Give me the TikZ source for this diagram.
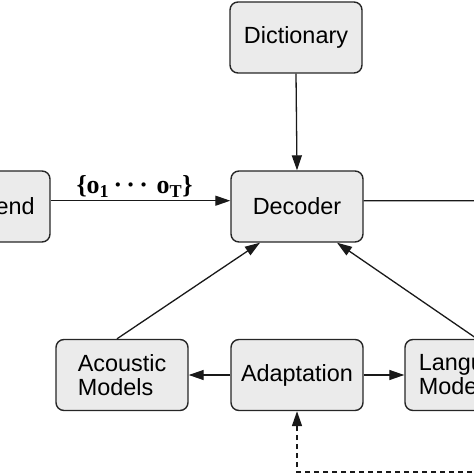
\documentclass[tikz,border=0pt]{standalone}
\usepackage{fontspec}
\setmainfont{Liberation Sans}
\newfontfamily\lserif{Liberation Serif}
\usetikzlibrary{arrows.meta}
\begin{document}
\begin{tikzpicture}[x=1bp,y=-1bp,
  blk/.style={draw=black!85,line width=1.4bp,fill=black!8,rounded corners=8bp,
    minimum width=132bp,minimum height=71bp,inner sep=0pt,
    font=\fontsize{23.5}{24}\selectfont,align=left},
  conn/.style={line width=1.3bp,draw=black!90,-{Triangle[length=15bp,width=10bp]}},
  plain/.style={line width=1.3bp,draw=black!90}]
\useasboundingbox (0,0) rectangle (474,474);
\clip (0,0) rectangle (474,474);
\node[blk] (dict) at (296,37.5) {Dictionary};
\node[blk] (dec) at (297,206.5) {Decoder};
\node[blk] (front) at (-16,206.5) {Front-end};
\node[blk] (ac) at (122,375) {Acoustic\\Models};
\node[blk] (ad) at (297,375) {Adaptation};
\node[blk] (lm) at (471,375) {Language\\Models};
\coordinate (out) at (490,200.7);
\coordinate (fb) at (490,472);
\draw[conn] (dict.south) -- (dec.north);
\draw[conn] ([yshift=5.8bp]front.east) -- ([yshift=5.8bp]dec.west)
  node[midway,above=1bp,xshift=-6bp,inner sep=2bp,font=\lserif\bfseries\fontsize{26}{28}\selectfont]
  (lab) {\{o\textsubscript{1}\,·\,·\,·\,\,o\textsubscript{T}\}};
\draw[plain] ([yshift=5.8bp]dec.east) -- (out);
\draw[conn] ([xshift=-5bp]ac.north) -- ([xshift=-37bp]dec.south);
\draw[conn] ([xshift=6bp]lm.north) -- ([xshift=40bp]dec.south);
\draw[conn] (ad.west) -- (ac.east);
\draw[conn] (ad.east) -- (lm.west);
\draw[conn,line width=1.6bp,dash pattern=on 5bp off 4bp] (fb) -- (ad.south |- fb) -- (ad.south);
\end{tikzpicture}
\end{document}
